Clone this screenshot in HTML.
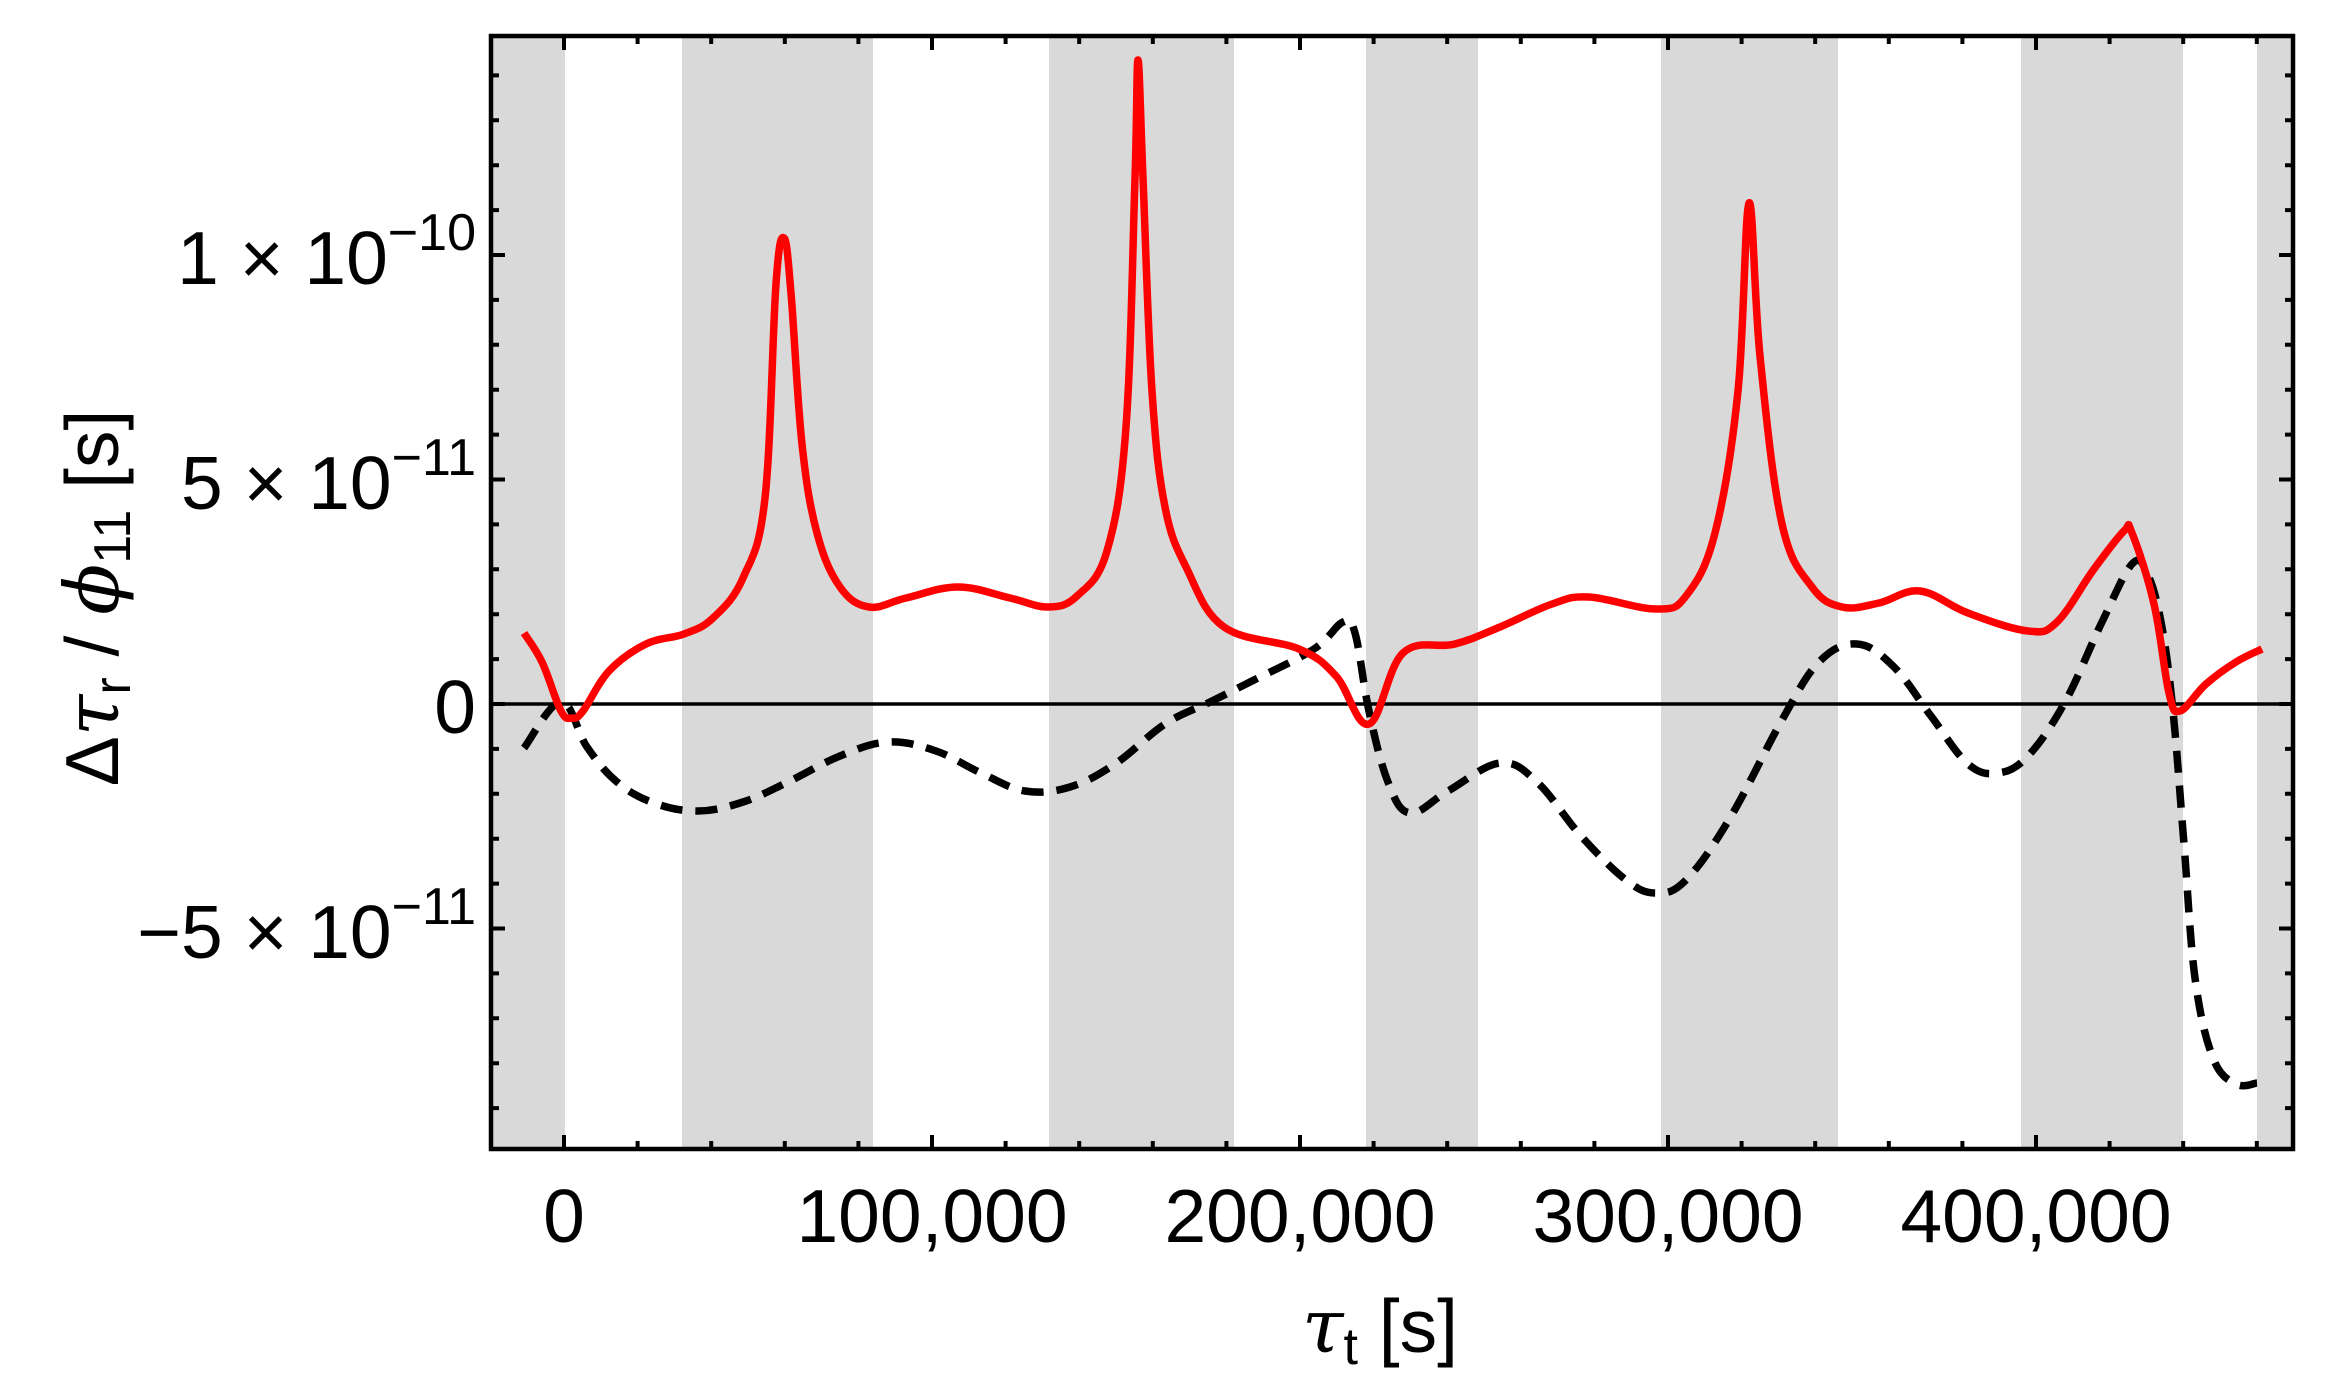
<!DOCTYPE html>
<html><head><meta charset="utf-8"><style>html,body{margin:0;padding:0;background:#fff}svg{display:block}</style></head>
<body>
<svg width="2331" height="1392" viewBox="0 0 2331 1392" xmlns="http://www.w3.org/2000/svg" font-family="Liberation Sans, sans-serif">
<rect width="2331" height="1392" fill="#fff"/>
<g fill="#d9d9d9">
<rect x="491" y="36" width="74" height="1113"/>
<rect x="682" y="36" width="191" height="1113"/>
<rect x="1049" y="36" width="185" height="1113"/>
<rect x="1366" y="36" width="112" height="1113"/>
<rect x="1661" y="36" width="177" height="1113"/>
<rect x="2021" y="36" width="162" height="1113"/>
<rect x="2257" y="36" width="36" height="1113"/>
</g>
<line x1="491" y1="704" x2="2293" y2="704" stroke="#000" stroke-width="3.5"/>
<path id="blk" fill="none" stroke="#000" stroke-width="7.5" stroke-dasharray="22 13" stroke-linejoin="round" data-p="524,748 561,702 587,747 617,782 654,803 698,811 743,802 788,782 840,756 888,742 936,751 981,773 1025,791 1070,787 1115,764 1165,724 1210,702 1254,680 1314,649 1343,622 1355,633 1369,711 1388,782 1410,813 1448,791 1500,763 1537,782 1581,836 1626,880 1656,893 1686,880 1730,818 1782,720 1819,662 1857,644 1894,667 1931,716 1968,764 1998,773 2028,756 2065,702 2102,622 2132,564 2147,573 2161,622 2173,711 2184,844 2195,978 2213,1058 2236,1084 2257,1083"/>
<path id="red" fill="none" stroke="#ff0000" stroke-width="7.5" stroke-linejoin="round" data-p="524,633 542,662 561,711 572,718 583,711 609,671 646,644 684,634 713,618 743,578 765,498 776,284 784,238 791,293 802,444 817,533 840,587 869,607 906,598 958,587 1010,598 1048,607 1077,596 1107,551 1126,427 1135,178 1138,60 1143,178 1152,391 1165,507 1187,569 1224,627 1299,649 1336,676 1369,724 1403,653 1455,644 1500,627 1552,604 1589,597 1656,609 1686,596 1715,533 1738,391 1749,203 1760,356 1782,524 1812,587 1842,607 1879,603 1920,591 1968,613 2028,631 2057,622 2094,569 2124,531 2132,533 2154,604 2169,693 2180,711 2206,684 2236,662 2262,649"/>
<g stroke="#000" stroke-width="4">
<path d="M564,1149v-14M637.6,1149v-8M711.2,1149v-8M784.8,1149v-8M858.4,1149v-8M932,1149v-14M1005.6,1149v-8M1079.2,1149v-8M1152.8,1149v-8M1226.4,1149v-8M1300,1149v-14M1373.6,1149v-8M1447.2,1149v-8M1520.8,1149v-8M1594.4,1149v-8M1668,1149v-14M1741.6,1149v-8M1815.2,1149v-8M1888.8,1149v-8M1962.4,1149v-8M2036,1149v-14M2109.6,1149v-8M2183.2,1149v-8M2256.8,1149v-8"/>
<path d="M564,36v14M637.6,36v8M711.2,36v8M784.8,36v8M858.4,36v8M932,36v14M1005.6,36v8M1079.2,36v8M1152.8,36v8M1226.4,36v8M1300,36v14M1373.6,36v8M1447.2,36v8M1520.8,36v8M1594.4,36v8M1668,36v14M1741.6,36v8M1815.2,36v8M1888.8,36v8M1962.4,36v8M2036,36v14M2109.6,36v8M2183.2,36v8M2256.8,36v8"/>
<path d="M491,1108.1h8M491,1063.2h8M491,1018.3h8M491,973.4h8M491,928.5h14M491,883.6h8M491,838.7h8M491,793.8h8M491,748.9h8M491,704h14M491,659.1h8M491,614.2h8M491,569.3h8M491,524.4h8M491,479.5h14M491,434.6h8M491,389.7h8M491,344.8h8M491,299.9h8M491,255h14M491,210.1h8M491,165.2h8M491,120.3h8M491,75.4h8"/>
<path d="M2293,1108.1h-8M2293,1063.2h-8M2293,1018.3h-8M2293,973.4h-8M2293,928.5h-14M2293,883.6h-8M2293,838.7h-8M2293,793.8h-8M2293,748.9h-8M2293,704h-14M2293,659.1h-8M2293,614.2h-8M2293,569.3h-8M2293,524.4h-8M2293,479.5h-14M2293,434.6h-8M2293,389.7h-8M2293,344.8h-8M2293,299.9h-8M2293,255h-14M2293,210.1h-8M2293,165.2h-8M2293,120.3h-8M2293,75.4h-8"/>
</g>
<rect x="491" y="36" width="1802" height="1113" fill="none" stroke="#000" stroke-width="4.5"/>
<g font-size="75" fill="#000">
<text x="476" y="284" text-anchor="end">1 × 10<tspan font-size="52" dy="-34">−10</tspan></text>
<text x="476" y="509" text-anchor="end">5 × 10<tspan font-size="52" dy="-34">−11</tspan></text>
<text x="476" y="733" text-anchor="end">0</text>
<text x="476" y="958" text-anchor="end">−5 × 10<tspan font-size="52" dy="-34">−11</tspan></text>
</g>
<g font-size="75" fill="#000" text-anchor="middle">
<text x="564" y="1242">0</text>
<text x="932" y="1242">100,000</text>
<text x="1300" y="1242">200,000</text>
<text x="1668" y="1242">300,000</text>
<text x="2036" y="1242">400,000</text>
</g>
<text x="1380" y="1352" font-size="75" text-anchor="middle" fill="#000"><tspan font-family="DejaVu Serif, serif" font-style="italic">τ</tspan><tspan font-size="52" dy="12">t</tspan><tspan dy="-12"> [s]</tspan></text>
<text transform="translate(118,598) rotate(-90)" font-size="75" text-anchor="middle" fill="#000">Δ<tspan font-family="DejaVu Serif, serif" font-style="italic">τ</tspan><tspan font-size="52" dy="12">r</tspan><tspan dy="-12"> / </tspan><tspan font-family="DejaVu Serif, serif" font-style="italic">ϕ</tspan><tspan font-size="52" dy="12">11</tspan><tspan dy="-12"> [s]</tspan></text>
</svg>
<script>
['blk','red'].forEach(function(id){
  var el=document.getElementById(id);
  var p=el.getAttribute('data-p').trim().split(/\s+/).map(function(s){return s.split(',').map(Number);});
  var d='M'+p[0][0]+','+p[0][1];
  var t=0.18;
  for(var i=0;i<p.length-1;i++){
    var p0=p[i-1]||p[i],p1=p[i],p2=p[i+1],p3=p[i+2]||p2;
    var c1x=p1[0]+(p2[0]-p0[0])*t,c1y=p1[1]+(p2[1]-p0[1])*t;
    var c2x=p2[0]-(p3[0]-p1[0])*t,c2y=p2[1]-(p3[1]-p1[1])*t;
    d+=' C'+c1x.toFixed(1)+','+c1y.toFixed(1)+' '+c2x.toFixed(1)+','+c2y.toFixed(1)+' '+p2[0]+','+p2[1];
  }
  el.setAttribute('d',d);
  el.removeAttribute('data-p');
});
</script>
</body></html>
